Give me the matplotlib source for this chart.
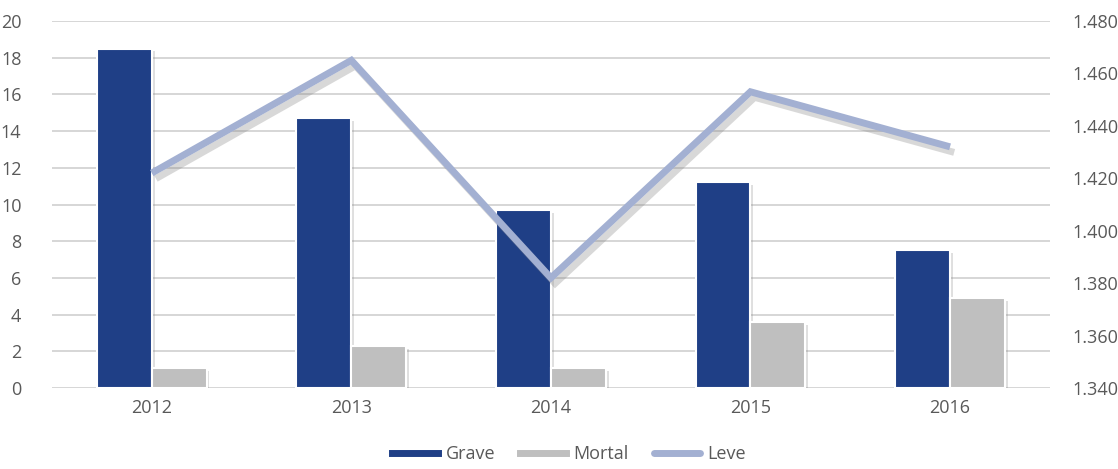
import numpy as np
import matplotlib
matplotlib.use("Agg")
import matplotlib.pyplot as plt
import matplotlib.patheffects as pe
from matplotlib.lines import Line2D
from matplotlib.ticker import FuncFormatter

# data
anos = ["2012", "2013", "2014", "2015", "2016"]
grave = [18.5, 14.7, 9.7, 11.2, 7.5]
mortal = [1.1, 2.3, 1.1, 3.6, 4.9]
leve = [1422, 1465, 1382, 1453, 1432]

c_grave = "#1f3f86"
c_mortal = "#bfbfbf"
c_leve = "#a3b0d2"
c_text = "#595959"

plt.rcParams["font.family"] = ["Open Sans", "DejaVu Sans"]

fig = plt.figure(figsize=(11.18, 4.69), dpi=100)
ax = fig.add_axes([0.0465, 0.1727, 0.8925, 0.7825])
x = np.arange(len(anos))
w = 0.275

shadow = [pe.SimplePatchShadow(offset=(2, -2), shadow_rgbFace="gray", alpha=0.25), pe.Normal()]
ax.bar(x - w / 2, grave, w, color=c_grave, edgecolor="white", linewidth=1.5,
       path_effects=shadow, zorder=3)
ax.bar(x + w / 2, mortal, w, color=c_mortal, edgecolor="white", linewidth=1.5,
       path_effects=shadow, zorder=3)

ax.set_xlim(-0.5, len(anos) - 0.5)
ax.set_ylim(0, 20)
ax.set_yticks(range(0, 21, 2))
ax.set_xticks(x)
ax.set_xticklabels(anos)
ax.grid(axis="y", color="#d0d0d0", linewidth=1.2)
ax.set_axisbelow(True)
for s in ax.spines.values():
    s.set_visible(False)
ax.tick_params(length=0, labelsize=13, colors=c_text, pad=8)
ax.tick_params(axis="y", pad=22)

ax2 = ax.twinx()
ax2.plot(x, leve, color=c_leve, linewidth=5, solid_joinstyle="miter",
         solid_capstyle="butt", zorder=4,
         path_effects=[pe.SimpleLineShadow(offset=(3, -4), shadow_color="gray", alpha=0.3),
                       pe.Normal()])
ax2.set_ylim(1340, 1480)
ax2.set_yticks(range(1340, 1481, 20))
ax2.yaxis.set_major_formatter(FuncFormatter(lambda v, p: f"{v/1000:.3f}"))
for s in ax2.spines.values():
    s.set_visible(False)
ax2.tick_params(length=0, labelsize=13, colors=c_text, pad=16)

handles = [Line2D([], [], color=c_grave, lw=5),
           Line2D([], [], color=c_mortal, lw=5),
           Line2D([], [], color=c_leve, lw=5, solid_capstyle="round")]
fig.legend(handles, ["Grave", "Mortal", "Leve"], loc="lower center",
           bbox_to_anchor=(0.509, -0.022), ncol=3, frameon=False, fontsize=13,
           handlelength=2.55, handletextpad=0.4, columnspacing=1.4, labelcolor=c_text)

fig.savefig("out.png", dpi=100)
